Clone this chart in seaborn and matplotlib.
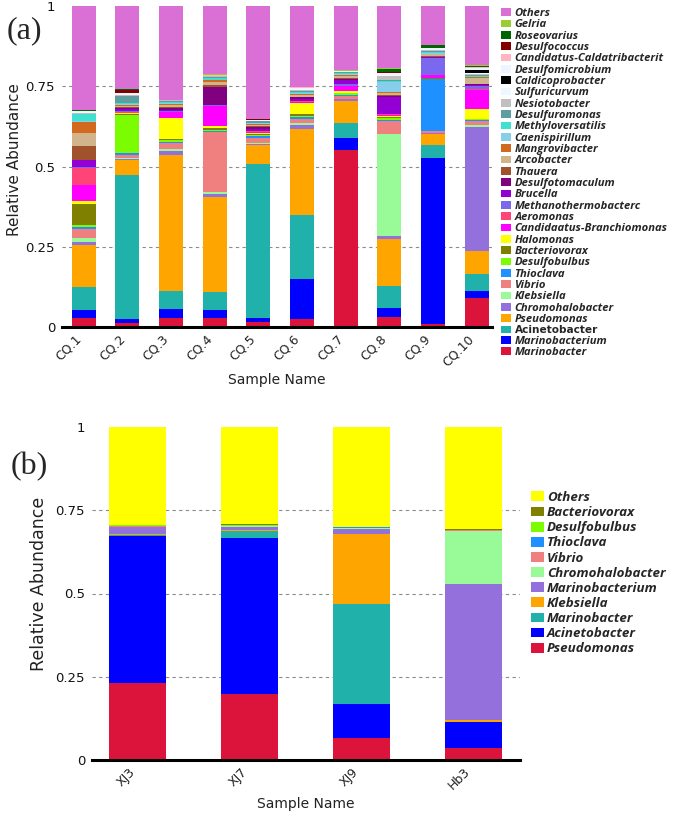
import matplotlib
matplotlib.use("Agg")
import matplotlib.pyplot as plt
from matplotlib.patches import Patch
import pandas as pd
import seaborn as sns

# ---- panel (a): 10 CQ samples, 31 genera (listed bottom -> top of the stack)
samples_a = ["CQ.1", "CQ.2", "CQ.3", "CQ.4", "CQ.5", "CQ.6", "CQ.7", "CQ.8", "CQ.9", "CQ.10"]

marinobacter = [0.029, 0.011, 0.029, 0.029, 0.015, 0.024, 0.551, 0.032, 0.008, 0.089]
marinobacterium = [0.025, 0.015, 0.027, 0.024, 0.014, 0.124, 0.039, 0.028, 0.517, 0.022]
acinetobacter = [0.072, 0.446, 0.057, 0.055, 0.478, 0.200, 0.044, 0.067, 0.042, 0.054]
pseudomonas = [0.130, 0.047, 0.422, 0.296, 0.060, 0.270, 0.070, 0.147, 0.033, 0.073]
chromohalobacter = [0.010, 0.004, 0.012, 0.010, 0.003, 0.012, 0.005, 0.008, 0.003, 0.385]
klebsiella = [0.012, 0.004, 0.006, 0.008, 0.004, 0.004, 0.002, 0.320, 0.002, 0.007]
vibrio = [0.028, 0.010, 0.020, 0.185, 0.016, 0.015, 0.010, 0.041, 0.005, 0.011]
thioclava = [0.006, 0.005, 0.004, 0.004, 0.004, 0.004, 0.003, 0.003, 0.162, 0.003]
desulfobulbus = [0.005, 0.119, 0.004, 0.004, 0.004, 0.003, 0.004, 0.004, 0.002, 0.003]
bacteriovorax = [0.066, 0.003, 0.006, 0.004, 0.003, 0.006, 0.002, 0.003, 0.001, 0.002]
halomonas = [0.008, 0.002, 0.063, 0.006, 0.004, 0.036, 0.006, 0.004, 0.001, 0.030]
branchiomonas = [0.050, 0.002, 0.019, 0.062, 0.003, 0.003, 0.014, 0.003, 0.009, 0.058]
aeromonas = [0.054, 0.002, 0.002, 0.002, 0.002, 0.002, 0.002, 0.002, 0.001, 0.003]
methanothermobacter = [0.002, 0.002, 0.002, 0.002, 0.002, 0.002, 0.006, 0.002, 0.052, 0.010]
brucella = [0.022, 0.008, 0.004, 0.002, 0.006, 0.004, 0.012, 0.054, 0.002, 0.004]
desulfotomaculum = [0.002, 0.003, 0.004, 0.056, 0.004, 0.006, 0.004, 0.003, 0.002, 0.002]
thauera = [0.042, 0.002, 0.003, 0.004, 0.003, 0.003, 0.003, 0.003, 0.002, 0.002]
arcobacter = [0.041, 0.005, 0.008, 0.011, 0.005, 0.006, 0.006, 0.006, 0.006, 0.018]
mangrovibacter = [0.036, 0.003, 0.004, 0.004, 0.003, 0.003, 0.002, 0.003, 0.002, 0.002]
caenispirillum = [0.003, 0.002, 0.002, 0.002, 0.002, 0.002, 0.002, 0.031, 0.002, 0.002]
methyloversatilis = [0.020, 0.002, 0.002, 0.005, 0.002, 0.002, 0.003, 0.002, 0.002, 0.003]
desulfuromonas = [0.002, 0.022, 0.004, 0.004, 0.004, 0.003, 0.003, 0.002, 0.003, 0.003]
nesiotobacter = [0.002, 0.003, 0.002, 0.002, 0.002, 0.004, 0.002, 0.013, 0.003, 0.002]
sulfuricurvum = [0.003, 0.003, 0.001, 0.001, 0.001, 0.004, 0.001, 0.005, 0.003, 0.003]
caldicoprobacter = [0.000, 0.001, 0.000, 0.000, 0.000, 0.000, 0.000, 0.000, 0.000, 0.011]
desulfomicrobium = [0.002, 0.002, 0.001, 0.001, 0.001, 0.004, 0.001, 0.004, 0.003, 0.004]
caldatribacterit = [0.001, 0.002, 0.000, 0.001, 0.001, 0.001, 0.001, 0.002, 0.001, 0.003]
desulfococcus = [0.001, 0.009, 0.000, 0.000, 0.001, 0.001, 0.001, 0.001, 0.001, 0.002]
roseovarius = [0.001, 0.001, 0.000, 0.000, 0.000, 0.001, 0.000, 0.012, 0.008, 0.001]
gelria = [0.002, 0.001, 0.000, 0.005, 0.000, 0.000, 0.001, 0.001, 0.002, 0.003]
others_a = [0.323, 0.258, 0.292, 0.211, 0.354, 0.252, 0.203, 0.193, 0.120, 0.185]

genera_a = ["Marinobacter", "Marinobacterium", "Acinetobacter", "Pseudomonas",
            "Chromohalobacter", "Klebsiella", "Vibrio", "Thioclava", "Desulfobulbus",
            "Bacteriovorax", "Halomonas", "Candidaatus-Branchiomonas", "Aeromonas",
            "Methanothermobacterc", "Brucella", "Desulfotomaculum", "Thauera",
            "Arcobacter", "Mangrovibacter", "Caenispirillum", "Methyloversatilis",
            "Desulfuromonas", "Nesiotobacter", "Sulfuricurvum", "Caldicoprobacter",
            "Desulfomicrobium", "Candidatus-Caldatribacterit", "Desulfococcus",
            "Roseovarius", "Gelria", "Others"]
values_a = [marinobacter, marinobacterium, acinetobacter, pseudomonas, chromohalobacter,
            klebsiella, vibrio, thioclava, desulfobulbus, bacteriovorax, halomonas,
            branchiomonas, aeromonas, methanothermobacter, brucella, desulfotomaculum,
            thauera, arcobacter, mangrovibacter, caenispirillum, methyloversatilis,
            desulfuromonas, nesiotobacter, sulfuricurvum, caldicoprobacter,
            desulfomicrobium, caldatribacterit, desulfococcus, roseovarius, gelria, others_a]
colors_a = ["#DC143C", "#0000FF", "#20B2AA", "#FFA500", "#9370DB", "#98FB98", "#F08080",
            "#1E90FF", "#7CFC00", "#808000", "#FFFF00", "#FF00FF", "#FF4477", "#7B68EE",
            "#9400D3", "#800080", "#A0522D", "#D2B48C", "#D2691E", "#87CEEB", "#40E0D0",
            "#5F9EA0", "#C0C0C0", "#F0F8FF", "#000000", "#EEF5FF", "#FFB6C1", "#800000",
            "#006400", "#9ACD32", "#DA70D6"]

# ---- panel (b): 4 samples, 11 genera (bottom -> top)
samples_b = ["XJ3", "XJ7", "XJ9", "Hb3"]

pseudomonas_b = [0.230, 0.198, 0.067, 0.037]
acinetobacter_b = [0.443, 0.470, 0.101, 0.077]
marinobacter_b = [0.004, 0.019, 0.300, 0.001]
klebsiella_b = [0.002, 0.005, 0.212, 0.006]
marinobacterium_b = [0.020, 0.008, 0.015, 0.407]
chromohalobacter_b = [0.002, 0.002, 0.002, 0.161]
vibrio_b = [0.001, 0.001, 0.001, 0.001]
thioclava_b = [0.001, 0.001, 0.001, 0.001]
desulfobulbus_b = [0.002, 0.003, 0.001, 0.001]
bacteriovorax_b = [0.001, 0.001, 0.001, 0.003]
others_b = [0.294, 0.292, 0.299, 0.305]

genera_b = ["Pseudomonas", "Acinetobacter", "Marinobacter", "Klebsiella",
            "Marinobacterium", "Chromohalobacter", "Vibrio", "Thioclava",
            "Desulfobulbus", "Bacteriovorax", "Others"]
values_b = [pseudomonas_b, acinetobacter_b, marinobacter_b, klebsiella_b,
            marinobacterium_b, chromohalobacter_b, vibrio_b, thioclava_b,
            desulfobulbus_b, bacteriovorax_b, others_b]
colors_b = ["#DC143C", "#0000FF", "#20B2AA", "#FFA500", "#9370DB", "#98FB98",
            "#F08080", "#1E90FF", "#7CFC00", "#808000", "#FFFF00"]

yticks = [0, 0.25, 0.5, 0.75, 1]
ytick_labels = ["0", "0.25", "0.5", "0.75", "1"]

sns.set_style("white")
plt.rcParams["font.family"] = ["DejaVu Sans"]
legend_font = ["Open Sans", "DejaVu Sans"]


def stacked_panel(ax, samples, genera, values, colors, shrink, xlim, ylabel_size):
    rows = []
    for g, vals in zip(genera, values):
        for s, v in zip(samples, vals):
            rows.append({"sample": s, "genus": g, "value": v})
    df = pd.DataFrame(rows)
    df["sample"] = pd.Categorical(df["sample"], categories=samples, ordered=True)

    sns.histplot(data=df, x="sample", hue="genus", weights="value",
                 multiple="stack", discrete=True, shrink=shrink,
                 hue_order=genera[::-1], palette=dict(zip(genera, colors)),
                 alpha=1, linewidth=0, legend=False, ax=ax)

    for y in [0.25, 0.5, 0.75]:
        ax.axhline(y, color="#8c8c8c", lw=0.8, ls=(0, (3, 3)), zorder=0)

    ax.set_ylim(0, 1)
    ax.set_xlim(*xlim)
    ax.set_yticks(yticks)
    ax.set_yticklabels(ytick_labels)
    ax.set_xticks(range(len(samples)))
    ax.set_xticklabels(samples, rotation=45, ha="right")
    ax.set_xticks([i + 0.5 for i in range(len(samples) - 1)], minor=True)
    ax.tick_params(axis="x", which="major", length=0, labelsize=9, pad=4,
                   labelcolor="#222222")
    ax.tick_params(axis="x", which="minor", length=3, width=1.2, color="black",
                   direction="out")
    ax.tick_params(axis="y", length=3, width=0.8, color="black", labelsize=9.5, pad=2,
                   labelcolor="#111111")
    for side in ["left", "right", "top"]:
        ax.spines[side].set_visible(False)
    ax.spines["bottom"].set_linewidth(2.2)
    ax.spines["bottom"].set_color("black")
    ax.set_ylabel("Relative Abundance", fontsize=ylabel_size, color="#222222")
    ax.set_xlabel("Sample Name", fontsize=10, color="#222222")


fig = plt.figure(figsize=(6.85, 8.14), dpi=100)
W, H = 685.0, 814.0

ax_a = fig.add_axes([62 / W, 1 - 327 / H, 430 / W, 321 / H])
stacked_panel(ax_a, samples_a, genera_a, values_a, colors_a, 0.55, (-0.5, 9.35), 11)
ax_a.yaxis.set_label_coords(-0.093, 0.523)
ax_a.xaxis.set_label_coords(0.5, -0.143)

ax_b = fig.add_axes([92 / W, 1 - 760 / H, 428 / W, 333 / H])
stacked_panel(ax_b, samples_b, genera_b, values_b, colors_b, 0.51, (-0.41, 3.42), 12.5)
ax_b.yaxis.set_label_coords(-0.103, 0.53)
ax_b.xaxis.set_label_coords(0.5, -0.111)

# legends: top entry is the top of the stack
handles_a = [Patch(facecolor=c, edgecolor="none") for c in colors_a[::-1]]
leg_a = fig.legend(handles_a, genera_a[::-1], loc="upper left",
                   bbox_to_anchor=(501 / W, 1 - 8 / H), frameon=False,
                   prop={"family": legend_font, "style": "italic", "weight": "bold", "size": 8.1},
                   handlelength=0.9, handleheight=0.66, handletextpad=0.3,
                   labelspacing=0.03, borderpad=0, borderaxespad=0)
for t in leg_a.get_texts():
    if t.get_text() == "Acinetobacter":
        t.set_fontstyle("normal")
        t.set_fontfamily("DejaVu Sans")
        t.set_fontsize(7.6)

handles_b = [Patch(facecolor=c, edgecolor="none") for c in colors_b[::-1]]
fig.legend(handles_b, genera_b[::-1], loc="upper left",
           bbox_to_anchor=(531 / W, 1 - 491 / H), frameon=False,
           prop={"family": legend_font, "style": "italic", "weight": "bold", "size": 9.6},
           handlelength=0.95, handleheight=0.75, handletextpad=0.25,
           labelspacing=0.16, borderpad=0, borderaxespad=0)

fig.text(7 / W, 1 - 38 / H, "(a)", fontsize=23, family=["Liberation Serif"])
fig.text(11 / W, 1 - 474 / H, "(b)", fontsize=23, family=["Liberation Serif"])

fig.savefig("out.png", dpi=100)
